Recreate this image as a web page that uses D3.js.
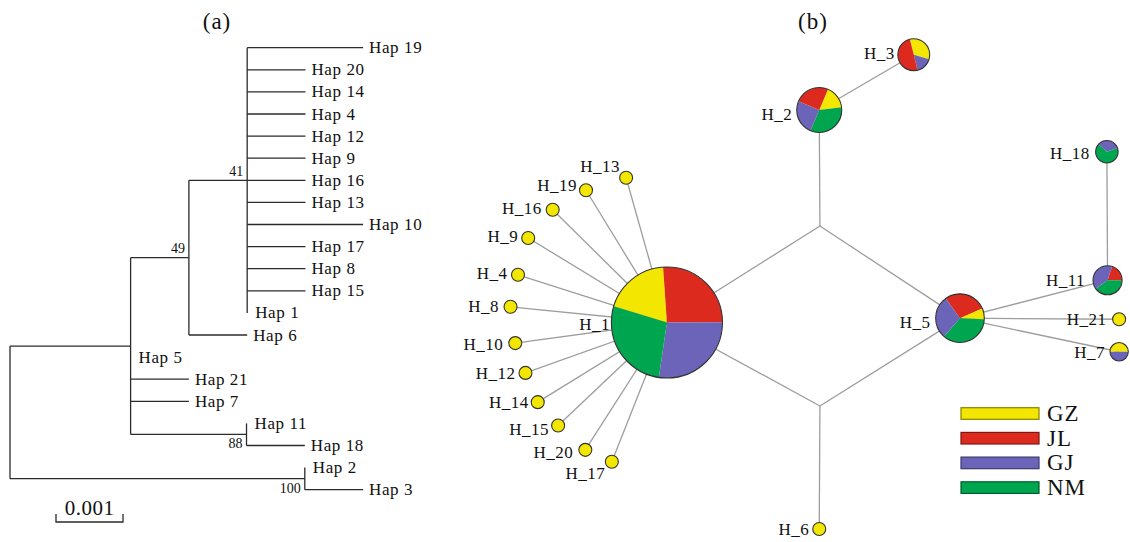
<!DOCTYPE html>
<html><head><meta charset="utf-8">
<script src="https://cdn.jsdelivr.net/npm/d3@7"></script>
<style>
html,body{margin:0;padding:0;background:#fff;}
svg{display:block;font-family:"Liberation Serif","Times New Roman",serif;}
</style></head><body>
<svg id="chart" width="1130" height="542"></svg>
<script>
// ---------------- DATA ----------------
// (a) Neighbour-joining tree
const treeIds = ["root","A","C","D","Hap 19","Hap 20","Hap 14","Hap 4","Hap 12","Hap 9","Hap 16","Hap 13","Hap 10","Hap 17","Hap 8","Hap 15","Hap 1","Hap 6","Hap 5","Hap 21","Hap 7","E","Hap 11","Hap 18","B","Hap 2","Hap 3"];
const treeParents = ["","root","A","C","D","D","D","D","D","D","D","D","D","D","D","D","D","C","A","A","A","A","E","E","root","B","B"];
const branchLengths = [0,0.0018,0.00087,0.00087,0.00173,0.00087,0.00087,0.00087,0.00087,0.00087,0.00087,0.00087,0.00173,0.00087,0.00087,0.00087,0,0.00087,0,0.00087,0.00087,0.00173,0,0.00087,0.0044,0,0.00087];
const supportNodes = ["D","C","E","B"];
const supportValues = [41,49,88,100];
const scaleBarValue = 0.001;

// (b) Haplotype network
const populations = ["GZ","JL","GJ","NM"];
const popColors = ["#f3e600","#dc2a1f","#6c64b8","#00a54f"];
const hapIds   = ["H_1","H_2","H_3","H_4","H_5","H_6","H_7","H_8","H_9","H_10","H_11","H_12","H_13","H_14","H_15","H_16","H_17","H_18","H_19","H_20","H_21"];
const countsGZ = [14,2,2,1,1,1,1,1,1,1,0,1,1,1,1,1,1,0,1,1,1];
const countsJL = [19,3,3,0,4,0,0,0,0,0,1,0,0,0,0,0,0,0,0,0,0];
const countsGJ = [20,3,1,0,4,0,1,0,0,0,2,0,0,0,0,0,0,1,0,0,0];
const countsNM = [20,4,0,0,5,0,0,0,0,0,2,0,0,0,0,0,0,2,0,0,0];
const medianVectors = ["mv1","mv2"];
const links = [
  ["H_1","mv1"],["H_1","mv2"],["mv1","H_2"],["mv1","H_5"],["mv2","H_5"],["mv2","H_6"],
  ["H_2","H_3"],["H_5","H_11"],["H_5","H_21"],["H_5","H_7"],["H_11","H_18"],
  ["H_1","H_13"],["H_1","H_19"],["H_1","H_16"],["H_1","H_9"],["H_1","H_4"],["H_1","H_8"],
  ["H_1","H_10"],["H_1","H_12"],["H_1","H_14"],["H_1","H_15"],["H_1","H_20"],["H_1","H_17"]
];

// ---------------- LAYOUT / STYLE ----------------
// network layout in abstract units (0-100)
const netLayout = {
  H_1:[31.9,59.5], mv1:[54.4,41.7], mv2:[54.4,74.9], H_2:[54.3,20.3], H_3:[68.2,10.1],
  H_5:[75.0,58.7], H_11:[96.7,51.7], H_18:[96.6,28.0], H_21:[98.4,58.9], H_7:[98.4,64.9],
  H_6:[54.3,97.6], H_13:[25.9,32.8], H_19:[20.0,35.1], H_16:[15.1,38.7], H_9:[11.5,43.9],
  H_4:[10.0,50.7], H_8:[8.9,56.6], H_10:[9.6,63.3], H_12:[11.1,68.8], H_14:[12.9,74.2],
  H_15:[15.9,78.5], H_20:[19.9,83.0], H_17:[23.8,85.2]
};
const labelOffset = {
  H_1:[-57,8], H_2:[-27,9.5], H_3:[-19,4], H_4:[-10.5,4.5], H_5:[-29.5,10], H_6:[-10,6.5],
  H_7:[-14,6.5], H_8:[-11.5,5.5], H_9:[-10,4], H_10:[-12,6.5], H_11:[-22.5,5.5], H_12:[-10,6],
  H_13:[-6,-6], H_14:[-9,5.5], H_15:[-9,9.5], H_16:[-11,4], H_17:[-6.5,17], H_18:[-17,7.5],
  H_19:[-9,0.5], H_20:[-12,8], H_21:[-12.5,6]
};
const pieOrder = {
  H_1:["GZ","JL","GJ","NM"], H_2:["GZ","NM","GJ","JL"], H_3:["GZ","GJ","JL"],
  H_5:["JL","GZ","NM","GJ"], H_11:["JL","NM","GJ"], H_18:["GJ","NM"], H_7:["GZ","GJ"]
};
const pieStart = {H_1:-73, H_2:23, H_3:-14, H_5:-36, H_11:18, H_18:-49, H_7:-90};
const supportPlace = {D:"above", C:"above", E:"below", B:"below"};

// ---------------- DRAW ----------------
const svg = d3.select("#chart");
const color = d3.scaleOrdinal().domain(populations).range(popColors);
const ink = "#2b2b2b";

// titles
svg.append("text").attr("x",217).attr("y",29).attr("text-anchor","middle")
  .attr("font-size",23).attr("letter-spacing",1).attr("fill","#111").text("(a)");
svg.append("text").attr("x",813).attr("y",29).attr("text-anchor","middle")
  .attr("font-size",23).attr("letter-spacing",1).attr("fill","#111").text("(b)");

// ----- (a) tree -----
const treeData = treeIds.map((id,i)=>({id, parent: treeParents[i], len: branchLengths[i]}));
const root = d3.stratify().id(d=>d.id).parentId(d=>d.parent || null)(treeData);
root.eachBefore(n => { n.dist = (n.parent ? n.parent.dist : 0) + n.data.len; });
const leaves = root.leaves();
const xT = d3.scaleLinear().domain([0, 0.001]).range([10, 77]);
const yT = d3.scalePoint().domain(leaves.map(d=>d.id)).range([47.7, 489.7]);
root.eachAfter(n => {
  if (!n.children) n.yy = yT(n.id);
  else { const ys = n.children.map(c=>c.yy); n.y0 = d3.min(ys); n.y1 = d3.max(ys); n.yy = (n.y0+n.y1)/2; }
});
const gT = svg.append("g");
const nodes = root.descendants();
gT.selectAll("line.h").data(nodes.filter(n=>n.parent && n.data.len>0)).join("line")
  .attr("x1",n=>xT(n.parent.dist)).attr("x2",n=>xT(n.dist))
  .attr("y1",n=>n.yy).attr("y2",n=>n.yy)
  .attr("stroke",ink).attr("stroke-width",1.3);
gT.selectAll("line.v").data(nodes.filter(n=>n.children)).join("line")
  .attr("x1",n=>xT(n.dist)).attr("x2",n=>xT(n.dist))
  .attr("y1",n=>n.y0).attr("y2",n=>n.y1)
  .attr("stroke",ink).attr("stroke-width",1.3);
gT.selectAll("text.leaf").data(leaves).join("text")
  .attr("x",n=>xT(n.dist) + (n.data.len>0 ? 6 : 8))
  .attr("y",n=>n.yy + 5.5)
  .attr("font-size",17).attr("letter-spacing",0.6).attr("fill","#111")
  .text(n=>n.id);
const supportMap = new Map(supportNodes.map((k,i)=>[k,supportValues[i]]));
gT.selectAll("text.sup").data(nodes.filter(n=>supportMap.has(n.id))).join("text")
  .attr("x",n=>xT(n.dist)-4)
  .attr("y",n=>supportPlace[n.id]==="above" ? n.yy-4.5 : n.yy+14)
  .attr("text-anchor","end").attr("font-size",14).attr("fill","#111")
  .text(n=>supportMap.get(n.id));
// scale bar
const sbX = 56, sbY = 522, sbLen = xT(scaleBarValue) - xT(0);
gT.append("path").attr("d",`M${sbX},${sbY-8}V${sbY}H${sbX+sbLen}V${sbY-8}`)
  .attr("fill","none").attr("stroke",ink).attr("stroke-width",1.3);
gT.append("text").attr("x",sbX+sbLen/2).attr("y",sbY-7).attr("text-anchor","middle")
  .attr("font-size",21).attr("letter-spacing",0.5).attr("fill","#111").text(d3.format(".3f")(scaleBarValue));

// ----- (b) network -----
const xN = d3.scaleLinear().domain([0,100]).range([450,1130]);
const yN = d3.scaleLinear().domain([0,100]).range([0,542]);
const rN = d3.scaleSqrt().domain([0,1]).range([0,6.5]);
const countArrays = [countsGZ,countsJL,countsGJ,countsNM];
const haps = hapIds.map((id,i)=>{
  const comp = populations.map((p,k)=>({pop:p, count: countArrays[k][i]}));
  const total = d3.sum(comp, d=>d.count);
  return {id, comp, total, x: xN(netLayout[id][0]), y: yN(netLayout[id][1])};
});
const pos = id => [xN(netLayout[id][0]), yN(netLayout[id][1])];
const gN = svg.append("g");
gN.selectAll("line.e").data(links).join("line")
  .attr("x1",d=>pos(d[0])[0]).attr("y1",d=>pos(d[0])[1])
  .attr("x2",d=>pos(d[1])[0]).attr("y2",d=>pos(d[1])[1])
  .attr("stroke","#9d9d9d").attr("stroke-width",1.3);
gN.selectAll("text.lab").data(haps).join("text")
  .attr("x",d=>d.x+labelOffset[d.id][0]).attr("y",d=>d.y+labelOffset[d.id][1])
  .attr("text-anchor","end").attr("font-size",17).attr("letter-spacing",0.5).attr("fill","#111")
  .text(d=>d.id);
const arc = d3.arc().innerRadius(0);
haps.forEach(h=>{
  const r = rN(h.total);
  const g = gN.append("g").attr("transform",`translate(${h.x},${h.y})`);
  const order = pieOrder[h.id] || populations;
  const slices = order.map(p=>h.comp.find(c=>c.pop===p)).filter(c=>c.count>0);
  const s0 = (pieStart[h.id]||0)*Math.PI/180;
  const pie = d3.pie().sort(null).value(d=>d.count).startAngle(s0).endAngle(s0+2*Math.PI);
  g.selectAll("path").data(pie(slices)).join("path")
    .attr("d",d=>arc.outerRadius(r)(d)).attr("fill",d=>color(d.data.pop));
  g.append("circle").attr("r",r).attr("fill","none").attr("stroke","#333").attr("stroke-width",1.1);
});

// legend
const lg = svg.append("g");
populations.forEach((p,i)=>{
  const yc = 413.5 + i*24.7;
  lg.append("rect").attr("x",961).attr("y",yc-5.8).attr("width",78).attr("height",11.6)
    .attr("fill",color(p)).attr("stroke",d3.color(color(p)).darker(1.6)).attr("stroke-width",1.2);
  lg.append("text").attr("x",1047).attr("y",yc+7.5).attr("font-size",23).attr("letter-spacing",1)
    .attr("fill","#111").text(p);
});
</script></body></html>
